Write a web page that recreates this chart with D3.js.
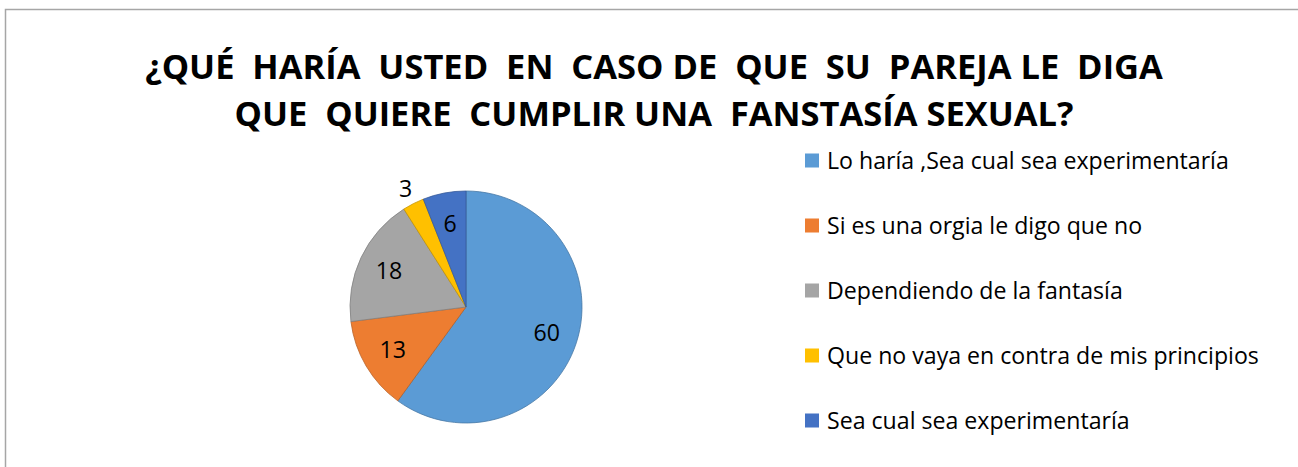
<!DOCTYPE html>
<html>
<head>
<meta charset="utf-8">
<script src="https://cdn.jsdelivr.net/npm/d3@7"></script>
<style>
  body { margin: 0; background: #fff; }
  text { font-family: "Open Sans", Lato, sans-serif; }
</style>
</head>
<body>
<div id="chart"></div>
<script>
// chart data
const titleLines = [
    "¿QUÉ  HARÍA  USTED  EN  CASO DE  QUE  SU  PAREJA LE  DIGA",
    "QUE  QUIERE  CUMPLIR UNA  FANSTASÍA SEXUAL?"
];
const categories = [
    "Lo haría ,Sea cual sea experimentaría",
    "Si es una orgia le digo que no",
    "Dependiendo de la fantasía",
    "Que no vaya en contra de mis principios",
    "Sea cual sea experimentaría"
];
const values = [60, 13, 18, 3, 6];
const colors = ["#5B9BD5", "#ED7D31", "#A5A5A5", "#FFC000", "#4472C4"];

const width = 1298, height = 467;

const svg = d3.select("#chart")
    .append("svg")
    .attr("width", width)
    .attr("height", height);

// outer frame
svg.append("rect")
    .attr("x", 5.5)
    .attr("y", 9.5)
    .attr("width", width + 20)
    .attr("height", height + 20)
    .attr("fill", "none")
    .attr("stroke", "#a6a6a6")
    .attr("stroke-width", 1.5);

// title
const title = svg.append("g")
    .selectAll("text")
    .data(titleLines)
    .join("text")
    .attr("x", 654)
    .attr("y", (d, i) => 79 + i * 47)
    .attr("text-anchor", "middle")
    .style("white-space", "pre")
    .style("font-size", "30px")
    .style("font-weight", "bold")
    .attr("fill", "#000")
    .text(d => d);

// fit first title line to ~1018px like the original
const tw = title.node().getComputedTextLength();
title.style("font-size", (30 * 1018 / tw) + "px");

// pie
const cx = 466, cy = 307, r = 116;
const pie = d3.pie().sort(null).value(d => d);
const arcs = pie(values);
const arc = d3.arc().innerRadius(0).outerRadius(r);
const labelArc = d3.arc().innerRadius(85).outerRadius(85);
const outerLabelArc = d3.arc().innerRadius(133).outerRadius(133);

const g = svg.append("g").attr("transform", `translate(${cx},${cy})`);

g.selectAll("path")
    .data(arcs)
    .join("path")
    .attr("d", arc)
    .attr("fill", (d, i) => colors[i])
    .attr("stroke", (d, i) => d3.color(colors[i]).darker(0.7))
    .attr("stroke-width", 0.8);

// legend
const legend = svg.append("g")
    .selectAll("g")
    .data(categories)
    .join("g")
    .attr("transform", (d, i) => `translate(805,${160.5 + i * 65})`);

legend.append("rect")
    .attr("x", 0)
    .attr("y", -7)
    .attr("width", 14)
    .attr("height", 14)
    .attr("fill", (d, i) => colors[i]);

const legendText = legend.append("text")
    .attr("x", 22)
    .attr("dy", "0.35em")
    .style("font-size", "20px")
    .attr("fill", "#000")
    .text(d => d);

// longest entry is ~432px wide in the original
const lw = d3.max(legendText.nodes(), n => n.getComputedTextLength());
const fs = 20 * 432 / lw;
legendText.style("font-size", fs + "px");

g.selectAll("text")
    .data(arcs)
    .join("text")
    .attr("transform", d => {
        const p = d.data < 5 ? outerLabelArc.centroid(d) : labelArc.centroid(d);
        return `translate(${p[0]},${p[1]})`;
    })
    .attr("text-anchor", "middle")
    .attr("dy", "0.35em")
    .style("font-size", fs + "px")
    .attr("fill", "#000")
    .text(d => d.data);
</script>
</body>
</html>
